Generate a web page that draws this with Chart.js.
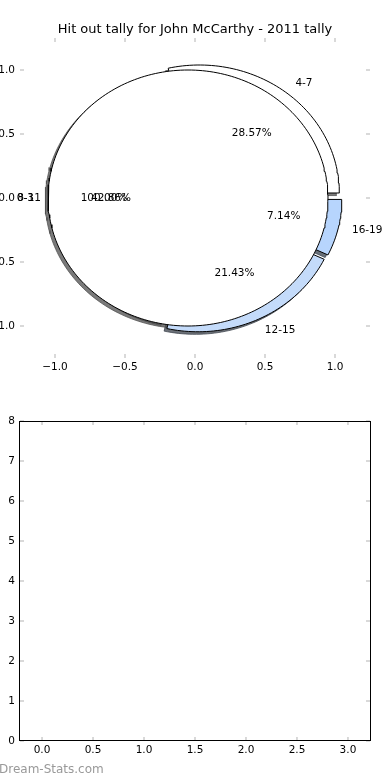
<!DOCTYPE html>
<html>
<head>
<meta charset="utf-8">
<script src="https://cdn.jsdelivr.net/npm/chart.js@4.4.1/dist/chart.umd.min.js"></script>
<style>
  html, body { margin: 0; padding: 0; background: #fff; }
  body { width: 390px; height: 780px; position: relative; overflow: hidden; }
  .box { position: absolute; left: 0; width: 390px; height: 390px; }
  #top { top: 0; }
  #bottom { top: 390px; }
  #mark { position: absolute; left: -1px; top: 762px; font: 12px "DejaVu Sans"; color: #999; white-space: nowrap; }
</style>
</head>
<body>
<div class="box" id="top"><canvas id="pieChart" width="390" height="390"></canvas></div>
<div class="box" id="bottom"><canvas id="emptyChart" width="390" height="390"></canvas></div>
<div id="mark">Dream-Stats.com</div>
<script>
const chartTitle = 'Hit out tally for John McCarthy - 2011 tally';

// tally pie, drawn first (underneath)
const tallyLabels = ['4-7', '8-11', '12-15', '16-19'];
const tallyValues = [4, 6, 3, 1];
// the 0-3 pie, one full circle drawn over it
const firstLabels = ['0-3'];
const firstValues = [1];

const pieTicks = [-1.0, -0.5, 0.0, 0.5, 1.0];
const lowerXTicks = [0.0, 0.5, 1.0, 1.5, 2.0, 2.5, 3.0];
const lowerYTicks = [0, 1, 2, 3, 4, 5, 6, 7, 8];

// styles
const tallyColors = ['#ffffff', '#ffffff', '#c4dbfa', '#b7d5fd'];
const tallyExplode = [0.05, 0, 0.05, 0.05];
const firstColors = ['#ffffff'];
const firstExplode = [0.05];

Chart.defaults.font.family = '"DejaVu Sans"';
Chart.defaults.color = '#000';

function wedges(values, labels, colors, explode) {
  const total = values.reduce((a, b) => a + b, 0);
  let start = 0;
  return values.map((v, i) => {
    const t1 = start, t2 = start + v / total * 360;
    start = t2;
    const mid = (t1 + t2) / 2 * Math.PI / 180;
    return {
      label: labels[i], pct: v / total * 100, t1, t2, mid,
      cx: explode[i] * Math.cos(mid), cy: explode[i] * Math.sin(mid),
      color: colors[i]
    };
  });
}

function outline(w, dx, dy) {
  const full = w.t2 - w.t1 >= 359.999;
  const ox = w.cx + dx, oy = w.cy + dy;
  const pts = full ? [] : [{x: ox, y: oy}];
  const n = Math.max(4, Math.ceil((w.t2 - w.t1) / 1.5));
  for (let k = 0; k <= n; k++) {
    const a = (w.t1 + (w.t2 - w.t1) * k / n) * Math.PI / 180;
    pts.push({x: ox + Math.cos(a), y: oy + Math.sin(a)});
  }
  if (!full) pts.push({x: ox, y: oy});
  return pts;
}

function shade(hex) {
  const n = parseInt(hex.slice(1), 16);
  const r = (n >> 16) & 255, g = (n >> 8) & 255, b = n & 255;
  return 'rgba(' + Math.round(r * 0.3) + ',' + Math.round(g * 0.3) + ',' + Math.round(b * 0.3) + ',0.75)';
}

const tally = wedges(tallyValues, tallyLabels, tallyColors, tallyExplode);
const first = wedges(firstValues, firstLabels, firstColors, firstExplode);
const allWedges = tally.concat(first);

const shadows = allWedges.map(w => ({
  data: outline(w, -0.02, -0.02),
  backgroundColor: shade(w.color),
  borderColor: shade(w.color)
}));
const faces = allWedges.map(w => ({
  data: outline(w, 0, 0),
  backgroundColor: w.color,
  borderColor: '#000'
}));
const layers = shadows.concat(faces).map((d, i, arr) => Object.assign(d, {
  showLine: true, fill: 'shape', borderWidth: 1, pointRadius: 0, order: arr.length - i
}));

const fmt = v => (v < 0 ? '\u2212' : '') + Math.abs(v).toFixed(1);

const pieText = {
  id: 'pieText',
  afterDatasetsDraw(chart) {
    const {ctx, scales: {x, y}} = chart;
    ctx.save();
    ctx.font = '10.5px "DejaVu Sans"';
    ctx.fillStyle = '#000';
    ctx.textBaseline = 'middle';
    allWedges.forEach(w => {
      const c = Math.cos(w.mid), s = Math.sin(w.mid);
      const lx = w.cx + 1.1 * c, ly = w.cy + 1.1 * s;
      ctx.textAlign = lx > 0 ? 'left' : 'right';
      ctx.fillText(w.label, x.getPixelForValue(lx), y.getPixelForValue(ly));
      ctx.textAlign = 'center';
      ctx.fillText(w.pct.toFixed(2) + '%', x.getPixelForValue(w.cx + 0.6 * c), y.getPixelForValue(w.cy + 0.6 * s));
    });
    ctx.restore();
  }
};

const innerTicks = {
  id: 'innerTicks',
  afterDraw(chart, args, opts) {
    const {ctx, chartArea: a, scales: {x, y}} = chart;
    ctx.save();
    if (opts.frame) {
      ctx.strokeStyle = '#000';
      ctx.lineWidth = 1;
      ctx.strokeRect(a.left - 0.5, a.top + 0.5, a.right - a.left + 1, a.bottom - a.top - 1);
    }
    ctx.strokeStyle = 'rgba(0,0,0,0.3)';
    ctx.lineWidth = 1;
    ctx.beginPath();
    x.ticks.forEach(t => {
      const px = x.getPixelForValue(t.value);
      ctx.moveTo(px, a.top); ctx.lineTo(px, a.top + 4);
      ctx.moveTo(px, a.bottom); ctx.lineTo(px, a.bottom - 4);
    });
    y.ticks.forEach(t => {
      const py = y.getPixelForValue(t.value);
      ctx.moveTo(a.left, py); ctx.lineTo(a.left + 4, py);
      ctx.moveTo(a.right, py); ctx.lineTo(a.right - 4, py);
    });
    ctx.stroke();
    ctx.restore();
  }
};

function axis(min, max, tickList, labelFn, fitFn, padding) {
  return {
    type: 'linear', min: min, max: max,
    afterBuildTicks: s => { s.ticks = tickList.map(v => ({value: v})); },
    afterFit: fitFn,
    grid: { display: false, drawTicks: false },
    border: { display: false },
    ticks: { callback: labelFn, padding: padding, autoSkip: false, maxRotation: 0, color: '#000', font: { size: 10.5 } }
  };
}

// empty right-hand margin, so the title centres over the axes
function margin() {
  return {
    type: 'linear', position: 'right', display: true,
    afterFit: s => { s.width = 20; },
    grid: { display: false, drawTicks: false },
    border: { display: false },
    ticks: { display: false }
  };
}

new Chart(document.getElementById('pieChart'), {
  type: 'scatter',
  data: { datasets: layers },
  options: {
    responsive: false,
    animation: false,
    events: [],
    layout: { padding: 0 },
    scales: {
      x: axis(-1.25, 1.25, pieTicks, fmt, s => { s.height = 32; }, 3),
      y: axis(-1.25, 1.25, pieTicks, fmt, s => { s.width = 20; }, 5),
      yr: margin()
    },
    plugins: {
      legend: { display: false },
      tooltip: { enabled: false },
      title: {
        display: true, text: chartTitle, color: '#000',
        font: { size: 13, weight: 'normal' },
        padding: { top: 22, bottom: 0.4 }
      },
      innerTicks: { frame: false }
    }
  },
  plugins: [pieText, innerTicks]
});

new Chart(document.getElementById('emptyChart'), {
  type: 'scatter',
  data: { datasets: [] },
  options: {
    responsive: false,
    animation: false,
    events: [],
    layout: { padding: { top: 31 } },
    scales: {
      x: axis(-0.216, 3.216, lowerXTicks, v => v.toFixed(1), s => { s.height = 39; }, 3),
      y: axis(0, 8, lowerYTicks, v => String(v), s => { s.width = 20; }, 5),
      yr: margin()
    },
    plugins: {
      legend: { display: false },
      tooltip: { enabled: false },
      innerTicks: { frame: true }
    }
  },
  plugins: [innerTicks]
});
</script>
</body>
</html>
